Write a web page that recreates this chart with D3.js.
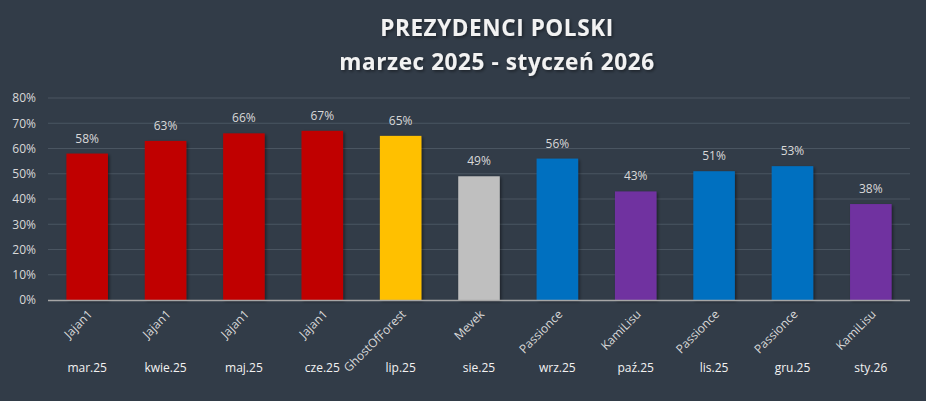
<!DOCTYPE html>
<html>
<head>
<meta charset="utf-8">
<script src="https://cdn.jsdelivr.net/npm/d3@7"></script>
<style>
  html, body { margin: 0; padding: 0; background: #323c48; }
  text { font-family: "Open Sans", "Liberation Sans", sans-serif; }
</style>
</head>
<body>
<div id="chart"></div>
<script>
// chart data
const months = ["mar.25", "kwie.25", "maj.25", "cze.25", "lip.25", "sie.25", "wrz.25", "paź.25", "lis.25", "gru.25", "sty.26"];
const names = ["Jajan1", "Jajan1", "Jajan1", "Jajan1", "GhostOfForest", "Mevek", "Passionce", "KamiLisu", "Passionce", "Passionce", "KamiLisu"];
const values = [58, 63, 66, 67, 65, 49, 56, 43, 51, 53, 38];
const yTicks = [0, 10, 20, 30, 40, 50, 60, 70, 80];
const titleLines = ["PREZYDENCI POLSKI", "marzec 2025 - styczeń 2026"];

const nameColors = {
  "Jajan1": "#c00000",
  "GhostOfForest": "#ffc000",
  "Mevek": "#bfbfbf",
  "Passionce": "#0070c0",
  "KamiLisu": "#7030a0"
};

const width = 926, height = 401;
const margin = { top: 98, right: 16, bottom: 101, left: 48 };
const innerW = width - margin.left - margin.right;
const innerH = height - margin.top - margin.bottom;

const svg = d3.select("#chart").append("svg")
  .attr("width", width)
  .attr("height", height);

svg.append("rect").attr("width", width).attr("height", height).attr("fill", "#323c48");

const defs = svg.append("defs");
const shadow = defs.append("filter").attr("id", "shadow").attr("x", "-20%").attr("y", "-20%").attr("width", "150%").attr("height", "150%");
shadow.append("feDropShadow").attr("dx", 1.5).attr("dy", 1.5).attr("stdDeviation", 1.5).attr("flood-color", "#000").attr("flood-opacity", 0.45);

// title
svg.selectAll(".title")
  .data(titleLines)
  .join("text")
  .attr("class", "title")
  .attr("x", 497)
  .attr("y", (d, i) => 36 + i * 34)
  .attr("text-anchor", "middle")
  .attr("fill", "#f2f2f2")
  .attr("font-size", 22.5)
  .attr("font-weight", "bold")
  .attr("letter-spacing", 0.6)
  .attr("filter", "url(#shadow)")
  .text(d => d);

const g = svg.append("g").attr("transform", `translate(${margin.left},${margin.top})`);

const x = d3.scaleBand().domain(d3.range(months.length)).range([0, innerW]).paddingInner(0.47).paddingOuter(0.235);
const y = d3.scaleLinear().domain([0, 80]).range([innerH, 0]);

// gridlines
g.selectAll(".grid")
  .data(yTicks.filter(d => d > 0))
  .join("line")
  .attr("class", "grid")
  .attr("x1", 0).attr("x2", innerW)
  .attr("y1", d => y(d)).attr("y2", d => y(d))
  .attr("stroke", "#4a5561").attr("stroke-width", 1);

// y axis
const yAxis = d3.axisLeft(y).tickValues(yTicks).tickFormat(d => d + "%").tickSize(0).tickPadding(12);
const ya = g.append("g").call(yAxis);
ya.select(".domain").remove();
ya.selectAll("text").attr("fill", "#d9d9d9").attr("font-size", 12);

// bars
g.selectAll(".bar")
  .data(values)
  .join("rect")
  .attr("class", "bar")
  .attr("x", (d, i) => x(i))
  .attr("y", d => y(d))
  .attr("width", x.bandwidth())
  .attr("height", d => innerH - y(d))
  .attr("fill", (d, i) => nameColors[names[i]])
  .attr("filter", "url(#shadow)");

// baseline
g.append("line")
  .attr("x1", 0).attr("x2", innerW)
  .attr("y1", innerH + 0.5).attr("y2", innerH + 0.5)
  .attr("stroke", "#a6a6a6").attr("stroke-width", 1.5);

// value labels
g.selectAll(".val")
  .data(values)
  .join("text")
  .attr("class", "val")
  .attr("x", (d, i) => x(i) + x.bandwidth() / 2)
  .attr("y", d => y(d) - 11)
  .attr("text-anchor", "middle")
  .attr("fill", "#d9d9d9")
  .attr("font-size", 12)
  .text(d => d + "%");

// rotated names
g.selectAll(".name")
  .data(names)
  .join("text")
  .attr("class", "name")
  .attr("text-anchor", "end")
  .attr("transform", (d, i) => `translate(${x(i) + x.bandwidth() / 2 + 6},${innerH + 15}) rotate(-45)`)
  .attr("fill", "#d9d9d9")
  .attr("font-size", 12)
  .text(d => d);

// month labels
g.selectAll(".month")
  .data(months)
  .join("text")
  .attr("class", "month")
  .attr("x", (d, i) => x(i) + x.bandwidth() / 2)
  .attr("y", innerH + 72)
  .attr("text-anchor", "middle")
  .attr("fill", "#f2f2f2")
  .attr("font-size", 12)
  .text(d => d);
</script>
</body>
</html>
